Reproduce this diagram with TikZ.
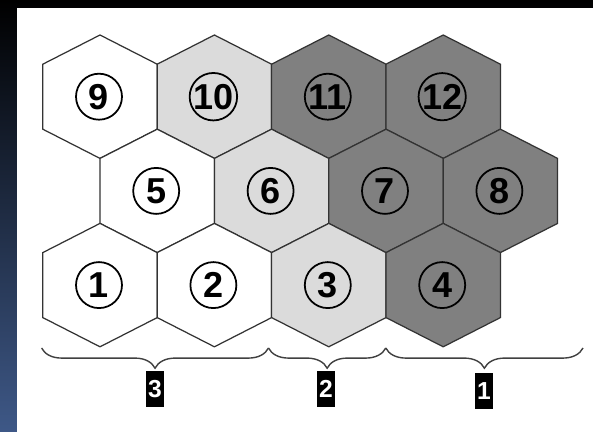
\documentclass[tikz,border=0pt]{standalone}
\usepackage{fontspec}
\setmainfont{Liberation Sans}
\usetikzlibrary{decorations.pathreplacing}
\definecolor{cellLight}{gray}{0.86}
\definecolor{cellDark}{gray}{0.5}
\definecolor{cellEdge}{gray}{0.2}
\definecolor{frameBlue}{RGB}{62,88,135}
% one hexagonal cell around (#1,#2), filled with #3
\newcommand{\hexcell}[3]{\filldraw[hexedge, fill=#3] (#1,#2) +(0,-61.7) -- +(57.2,-32.5) -- +(57.2,32.5) -- +(0,61.7) -- +(-57.2,32.5) -- +(-57.2,-32.5) -- cycle;}
\begin{document}
\begin{tikzpicture}[x=0.02cm, y=-0.02cm,
    hexedge/.style={draw=cellEdge, line width=0.7pt},
    cell/.style={circle, draw, line width=1pt, minimum size=0.92cm, inner sep=0pt, font=\bfseries\fontsize{20.5}{21}\selectfont},
    zone/.style={fill=black, text=white, inner xsep=1.5pt, inner ysep=5.5pt, font=\bfseries\fontsize{14}{14}\selectfont},
    span/.style={decorate, decoration={brace, mirror, amplitude=11.5pt}, draw=black!75, line width=0.8pt}]
        \useasboundingbox (0,0) rectangle (593,432);
        \shade[top color=black, bottom color=frameBlue] (0,0) rectangle (593,432);
        \fill[white] (17,8.5) rectangle (593,432);
        % cells
        \hexcell{100}{96.7}{white}
        \hexcell{214.4}{96.7}{cellLight}
        \hexcell{328.8}{96.7}{cellDark}
        \hexcell{443.2}{96.7}{cellDark}
        \hexcell{157.2}{190.9}{white}
        \hexcell{271.6}{190.9}{cellLight}
        \hexcell{386}{190.9}{cellDark}
        \hexcell{500.4}{190.9}{cellDark}
        \hexcell{100}{285.1}{white}
        \hexcell{214.4}{285.1}{white}
        \hexcell{328.8}{285.1}{cellLight}
        \hexcell{443.2}{285.1}{cellDark}
        % cell numbers
        \node[cell] (c9) at (99,96.7) {9};
        \node[cell] (c10) at (213.4,96.7) {10};
        \node[cell] (c11) at (327.8,96.7) {11};
        \node[cell] (c12) at (442.2,96.7) {12};
        \node[cell] (c5) at (156.2,190.9) {5};
        \node[cell] (c6) at (270.6,190.9) {6};
        \node[cell] (c7) at (385,190.9) {7};
        \node[cell] (c8) at (499.4,190.9) {8};
        \node[cell] (c1) at (99,285.1) {1};
        \node[cell] (c2) at (213.4,285.1) {2};
        \node[cell] (c3) at (327.8,285.1) {3};
        \node[cell] (c4) at (442.2,285.1) {4};
        % zones
        \coordinate (s0) at (41.6,348);
        \coordinate (s1) at (268.5,348);
        \coordinate (s2) at (385.8,348);
        \coordinate (s3) at (583,348);
        \draw[span] (s0) -- (s1);
        \draw[span] (s1) -- (s2);
        \draw[span] (s2) -- (s3);
        \node[zone] (z3) at (155,389) {3};
        \node[zone] (z2) at (326,389) {2};
        \node[zone] (z1) at (484,391) {1};
    \end{tikzpicture}
\end{document}
